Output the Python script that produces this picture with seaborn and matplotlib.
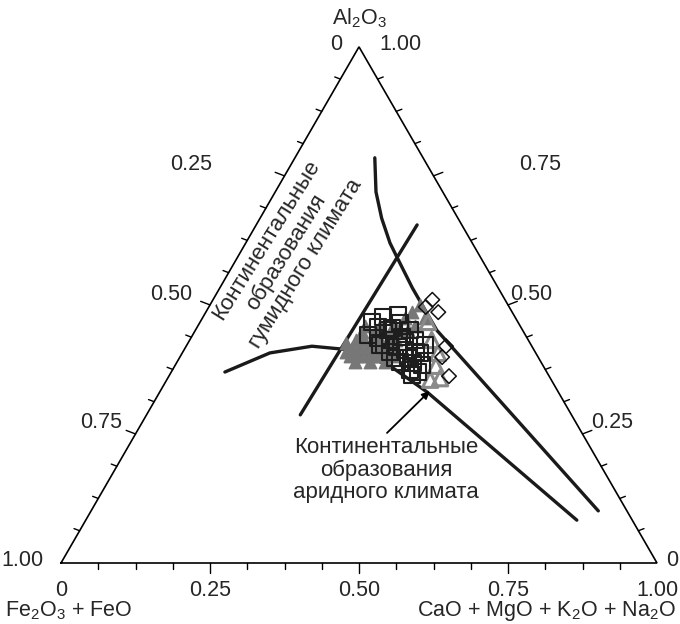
import numpy as np
import pandas as pd
import matplotlib
matplotlib.use("Agg")
import matplotlib.pyplot as plt
import seaborn as sns

# ternary values: al = Al2O3, ca = CaO + MgO + K2O + Na2O  (Fe2O3 + FeO = 1 - al - ca)

# grey triangles (dense cloud)
grey_tri_al = [0.401, 0.401, 0.401, 0.401, 0.401, 0.401, 0.401,
               0.417, 0.417, 0.417, 0.417, 0.417, 0.417, 0.417,
               0.432, 0.432, 0.432, 0.432, 0.432, 0.432,
               0.448, 0.448, 0.448, 0.448,
               0.390, 0.390, 0.390,
               0.460, 0.460, 0.460,
               0.409, 0.426,
               0.475, 0.486, 0.500, 0.459, 0.475, 0.451]
grey_tri_ca = [0.284, 0.296, 0.308, 0.320, 0.331, 0.343, 0.355,
               0.280, 0.292, 0.304, 0.315, 0.327, 0.339, 0.351,
               0.279, 0.292, 0.306, 0.319, 0.333, 0.346,
               0.281, 0.303, 0.328, 0.345,
               0.298, 0.323, 0.349,
               0.280, 0.305, 0.330,
               0.274, 0.265,
               0.340, 0.346, 0.352, 0.364, 0.373, 0.357]

# light grey open triangles
open_tri_al = [0.432, 0.407, 0.382, 0.358, 0.355, 0.467]
open_tri_ca = [0.406, 0.429, 0.438, 0.457, 0.442, 0.382]

# dark open squares
square_al = [0.477, 0.457, 0.451, 0.465, 0.438, 0.419, 0.413, 0.397,
             0.388, 0.407, 0.374, 0.370, 0.432, 0.397, 0.422, 0.432,
             0.467, 0.442, 0.422, 0.455, 0.481, 0.451, 0.428, 0.409,
             0.389, 0.384, 0.422, 0.409, 0.436, 0.364]
square_ca = [0.302, 0.303, 0.323, 0.336, 0.353, 0.355, 0.371, 0.384,
             0.397, 0.399, 0.399, 0.414, 0.336, 0.362, 0.332, 0.378,
             0.288, 0.294, 0.324, 0.328, 0.325, 0.360, 0.363, 0.390,
             0.374, 0.414, 0.400, 0.348, 0.314, 0.407]

# open diamonds
diamond_al = [0.510, 0.496, 0.486, 0.420, 0.399, 0.362]
diamond_ca = [0.368, 0.364, 0.390, 0.436, 0.440, 0.470]

# boundary lines
line1_al = [0.785, 0.719, 0.668, 0.620, 0.593, 0.533, 0.490, 0.451, 0.101]
line1_ca = [0.134, 0.169, 0.204, 0.242, 0.267, 0.323, 0.366, 0.405, 0.851]
line2_al = [0.370, 0.407, 0.420, 0.413, 0.382, 0.331, 0.083]
line2_ca = [0.090, 0.147, 0.211, 0.278, 0.361, 0.449, 0.824]
line3_al = [0.287, 0.655]
line3_ca = [0.258, 0.270]

arrow_al = [0.252, 0.333]
arrow_ca = [0.421, 0.452]

tick_labels = ["0", "0.25", "0.50", "0.75", "1.00"]

H = np.sqrt(3) / 2


def to_xy(al, ca):
    al = np.asarray(al, dtype=float)
    ca = np.asarray(ca, dtype=float)
    return ca + al / 2, al * H


def frame(al, ca):
    x, y = to_xy(al, ca)
    return pd.DataFrame({"x": x, "y": y})


sns.set_theme(style="white")
plt.rcParams["font.family"] = ["Liberation Sans", "DejaVu Sans"]
plt.rcParams["mathtext.fontset"] = "custom"
plt.rcParams["mathtext.rm"] = "Liberation Sans"
plt.rcParams["mathtext.it"] = "Liberation Sans:italic"

W, Hpx = 680, 624
fig = plt.figure(figsize=(6.8, 6.24), dpi=100)
ax = fig.add_axes([0, 0, 1, 1])
ax.set_xlim(-61 / 596, 619 / 596)
ax.set_ylim(-61 / 596, 563 / 596)
ax.set_aspect("equal")
ax.axis("off")

# triangle frame
ax.plot([0, 1, 0.5, 0], [0, 0, H, 0], color="black", lw=1.2, zorder=2,
        solid_joinstyle="miter")

# ticks
steps = np.arange(1, 16) / 16
ang = np.deg2rad(21)
for t in steps:
    major = abs(t * 4 - round(t * 4)) < 1e-9
    ln = (10 if major else 6) / 596
    # bottom
    ax.plot([t, t], [0, -ln], color="black", lw=1.0)
    # left edge (Fe2O3 + FeO, 0 at top)
    lx, ly = (1 - t) / 2, (1 - t) * H
    ax.plot([lx, lx - ln * np.cos(ang)], [ly, ly + ln * np.sin(ang)],
            color="black", lw=1.0)
    # right edge (Al2O3)
    rx, ry = 1 - t / 2, t * H
    ax.plot([rx, rx + ln * np.cos(ang)], [ry, ry + ln * np.sin(ang)],
            color="black", lw=1.0)

# boundary lines
for al, ca in [(line1_al, line1_ca), (line2_al, line2_ca), (line3_al, line3_ca)]:
    sns.lineplot(data=frame(al, ca), x="x", y="y", sort=False, estimator=None,
                 color="#1a1a1a", lw=2.4, ax=ax, zorder=3)

# data points
sns.scatterplot(data=frame(grey_tri_al, grey_tri_ca), x="x", y="y", marker="^",
                s=80, color="#777777", edgecolor="#777777", linewidth=1.0,
                ax=ax, zorder=4)
sns.scatterplot(data=frame(open_tri_al, open_tri_ca), x="x", y="y", marker="^",
                s=120, facecolors="none", edgecolor="#8a8a8a", linewidth=2.2,
                ax=ax, zorder=4)
sns.scatterplot(data=frame(square_al, square_ca), x="x", y="y", marker="s",
                s=140, facecolors="none", edgecolor="#1e1e1e", linewidth=1.5,
                ax=ax, zorder=5)
sns.scatterplot(data=frame(diamond_al, diamond_ca), x="x", y="y", marker="D",
                s=55, facecolors="none", edgecolor="#111111", linewidth=1.1,
                ax=ax, zorder=5)

# arrow
ax0, ay0 = to_xy(arrow_al[0], arrow_ca[0])
ax1, ay1 = to_xy(arrow_al[1], arrow_ca[1])
ax.annotate("", xy=(ax1, ay1), xytext=(ax0, ay0),
            arrowprops=dict(arrowstyle="-|>", color="black", lw=1.3,
                            mutation_scale=11, shrinkA=0, shrinkB=0),
            zorder=6)


def ftext(px, py, s, **kw):
    fig.text(px / W, 1 - py / Hpx, s, **kw)


fs = 15.5
# left edge labels (Fe2O3 + FeO)
left_pos = [(336, 45), (191, 165), (171, 295), (101, 423), (22, 560)]
for (px, py), lab in zip(left_pos, tick_labels):
    ftext(px, py, lab, ha="center", va="center", fontsize=fs)
# right edge labels (Al2O3)
right_pos = [(672, 560), (612, 423), (531, 295), (540, 165), (400, 45)]
for (px, py), lab in zip(right_pos, tick_labels):
    ftext(px, py, lab, ha="center", va="center", fontsize=fs)
# bottom labels
bottom_pos = [(61, 590), (210, 590), (359, 590), (508, 590), (657, 590)]
for (px, py), lab in zip(bottom_pos, tick_labels):
    ftext(px, py, lab, ha="center", va="center", fontsize=fs)

ftext(359, 18, r"Al$_2$O$_3$", ha="center", va="center", fontsize=fs)
ftext(5, 611, r"Fe$_2$O$_3$ + FeO", ha="left", va="center", fontsize=fs)
ftext(676, 611, r"CaO + MgO + K$_2$O + Na$_2$O", ha="right", va="center",
      fontsize=fs)

ftext(286, 252, "Континентальные\nобразования\nгумидного климата",
      ha="center", va="center", multialignment="center", rotation=58,
      rotation_mode="anchor", fontsize=16, linespacing=1.1)
ftext(386, 470, "Континентальные\nобразования\nаридного климата",
      ha="center", va="center", multialignment="center", fontsize=16,
      linespacing=1.1)

fig.savefig("out.png", dpi=100)
